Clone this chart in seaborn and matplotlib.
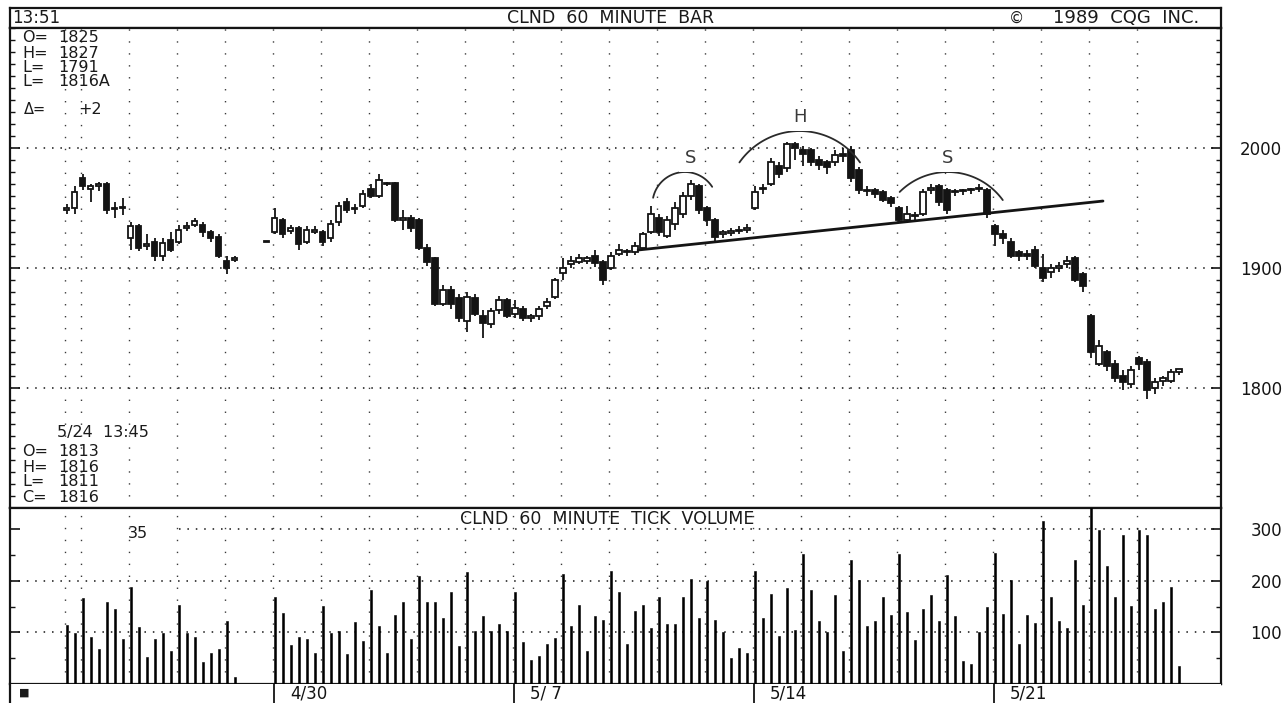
import numpy as np
import pandas as pd
import matplotlib
matplotlib.use("Agg")
import matplotlib.pyplot as plt
import seaborn as sns

sns.set_style("white")
plt.rcParams['font.family'] = ['DejaVu Sans']

# ---------------------------------------------------------------- data
# hourly bar number, counted from the first bar of the 4/30 week (6 bars a day)
bar_index = list(range(-26, -4)) + [-1] + list(range(0, 114))

opens = [1948, 1950, 1975, 1966, 1968, 1970, 1950, 1950, 1925, 1935, 1918, 1922, 1910,
         1923, 1922, 1933, 1936, 1936, 1930, 1926, 1906, 1907,
         1922,
         1930, 1940, 1931, 1933, 1922, 1930, 1930, 1925, 1938, 1955, 1950, 1952, 1966, 1960,
         1970, 1971, 1940, 1942, 1940, 1917, 1908, 1870, 1882, 1875, 1856, 1875, 1860, 1853,
         1865, 1873,
         1862, 1866, 1858, 1860, 1868, 1876, 1896, 1903, 1905, 1906, 1910, 1905, 1900, 1912,
         1914, 1913, 1917, 1930, 1942, 1927, 1937, 1945, 1960, 1968, 1950, 1940, 1928, 1929,
         1931, 1932,
         1950, 1966, 1970, 1985, 1983, 2003, 1998, 1998, 1990, 1988, 1988, 1995, 1998, 1982,
         1965, 1965, 1963, 1958, 1950, 1940, 1943, 1945, 1965, 1968, 1965, 1963, 1964, 1965,
         1966, 1965,
         1935, 1928, 1922, 1913, 1912, 1915, 1900, 1897, 1900, 1903, 1908, 1895, 1860, 1820,
         1830, 1820, 1810, 1803, 1825, 1822, 1800, 1806, 1806, 1813]

highs = [1953, 1968, 1978, 1970, 1972, 1972, 1955, 1958, 1938, 1937, 1928, 1925, 1925,
         1930, 1936, 1938, 1942, 1938, 1932, 1928, 1910, 1910,
         1922,
         1950, 1942, 1936, 1935, 1935, 1935, 1932, 1940, 1955, 1958, 1953, 1965, 1970, 1978,
         1972, 1972, 1948, 1944, 1942, 1920, 1909, 1886, 1885, 1878, 1880, 1878, 1865, 1867,
         1877, 1875,
         1873, 1868, 1862, 1868, 1875, 1892, 1908, 1910, 1912, 1910, 1915, 1907, 1913, 1920,
         1916, 1922, 1930, 1952, 1945, 1943, 1955, 1963, 1973, 1970, 1952, 1942, 1932, 1933,
         1935, 1937,
         1968, 1970, 1992, 1988, 2005, 2005, 2002, 2000, 1993, 1990, 1998, 2000, 2002, 1984,
         1968, 1967, 1965, 1960, 1952, 1952, 1947, 1966, 1970, 1970, 1967, 1966, 1966, 1967,
         1970, 1967,
         1937, 1932, 1925, 1915, 1915, 1918, 1912, 1903, 1905, 1910, 1910, 1897, 1862, 1840,
         1832, 1823, 1815, 1818, 1827, 1824, 1808, 1810, 1816, 1816]

lows = [1945, 1945, 1965, 1955, 1964, 1945, 1942, 1944, 1915, 1914, 1915, 1906, 1906,
        1913, 1920, 1931, 1934, 1926, 1922, 1908, 1895, 1905,
        1922,
        1928, 1925, 1928, 1915, 1920, 1928, 1918, 1922, 1935, 1946, 1945, 1950, 1958, 1958,
        1968, 1938, 1932, 1930, 1915, 1902, 1868, 1868, 1866, 1855, 1847, 1860, 1842, 1850,
        1862, 1858,
        1858, 1856, 1855, 1857, 1866, 1874, 1890, 1900, 1903, 1903, 1901, 1886, 1898, 1910,
        1910, 1911, 1915, 1928, 1927, 1925, 1932, 1942, 1957, 1945, 1935, 1922, 1925, 1927,
        1928, 1929,
        1948, 1962, 1968, 1975, 1980, 1990, 1985, 1985, 1982, 1978, 1985, 1988, 1972, 1962,
        1960, 1958, 1955, 1951, 1938, 1938, 1940, 1943, 1962, 1952, 1945, 1960, 1961, 1962,
        1963, 1942,
        1918, 1920, 1908, 1906, 1907, 1900, 1888, 1892, 1897, 1900, 1888, 1880, 1825, 1818,
        1814, 1805, 1798, 1800, 1815, 1791, 1795, 1802, 1804, 1811]

closes = [1950, 1963, 1968, 1968, 1970, 1948, 1949, 1950, 1935, 1917, 1920, 1910, 1921,
          1915, 1932, 1935, 1939, 1930, 1925, 1910, 1900, 1908,
          1922,
          1942, 1928, 1933, 1920, 1932, 1932, 1922, 1937, 1952, 1948, 1949, 1962, 1960, 1973,
          1971, 1940, 1942, 1933, 1917, 1905, 1870, 1882, 1870, 1858, 1876, 1862, 1854, 1864,
          1873, 1860,
          1867, 1858, 1860, 1866, 1872, 1890, 1900, 1906, 1908, 1908, 1904, 1890, 1910, 1915,
          1913, 1918, 1928, 1945, 1930, 1940, 1950, 1960, 1970, 1948, 1940, 1926, 1930, 1931,
          1932, 1933,
          1963, 1967, 1988, 1978, 2003, 2000, 1995, 1988, 1986, 1984, 1994, 1993, 1975, 1965,
          1964, 1962, 1957, 1954, 1940, 1945, 1944, 1963, 1967, 1955, 1948, 1964, 1964, 1965,
          1967, 1945,
          1928, 1925, 1910, 1910, 1910, 1902, 1892, 1900, 1902, 1906, 1890, 1885, 1830, 1835,
          1818, 1808, 1805, 1815, 1820, 1798, 1805, 1808, 1813, 1816]

tick_volume = [114, 99, 167, 91, 67, 159, 145, 88, 188, 110, 53, 88, 99, 64, 154, 99, 91, 42,
               61, 67, 122, 13,
               0,
               169, 138, 75, 91, 88, 61, 152, 99, 103, 59, 120, 84, 183, 112, 61, 134, 159, 88,
               209, 159, 159, 128, 178, 73, 217, 103, 132, 103, 117, 103,
               178, 81, 46, 54, 78, 90, 213, 112, 154, 64, 132, 125, 220, 178, 78, 141, 154, 108,
               169, 117, 117, 169, 203, 128, 200, 125, 101, 51, 70, 61,
               220, 128, 175, 94, 187, 105, 253, 183, 122, 101, 172, 64, 240, 201, 112, 122, 169,
               134, 253, 139, 86, 146, 173, 122, 211, 132, 44, 38, 101, 149,
               255, 135, 201, 78, 134, 118, 317, 169, 122, 109, 241, 154, 360, 299, 230, 169, 290,
               152, 299, 290, 146, 159, 189, 35]

week_starts = [0, 30, 60, 90]
week_labels = ["4/30", "5/ 7", "5/14", "5/21"]
price_ticks = [1800, 1900, 2000]
volume_ticks = [100, 200, 300]

# head-and-shoulders neckline
neck_x = [45.4, 103.5]
neck_y = [1915, 1955.8]

bars = pd.DataFrame({"bar": bar_index, "open": opens, "high": highs,
                     "low": lows, "close": closes, "volume": tick_volume})

# ---------------------------------------------------------------- layout
W, H, DPI = 1284, 703, 100
fig = plt.figure(figsize=(W / DPI, H / DPI), dpi=DPI)
fig.patch.set_facecolor("white")


def box(x0, y0, x1, y1):
    return [x0 / W, 1 - y1 / H, (x1 - x0) / W, (y1 - y0) / H]


def ptext(x, y, s, **kw):
    kw.setdefault("va", "center")
    kw.setdefault("color", "#1a1a1a")
    fig.text(x / W, 1 - y / H, s, **kw)


XLIM = (-33.1, 118.25)
INK = "#141414"
FRAME_LW = 1.6

hdr = fig.add_axes(box(10, 8, 1221, 28))
ax = fig.add_axes(box(10, 28, 1221, 508))
vax = fig.add_axes(box(10, 508, 1221, 684))
dax = fig.add_axes(box(10, 684, 1221, 703))

for a in (hdr, ax, vax, dax):
    a.set_xlim(*XLIM)
    a.set_xticks([])
    a.set_facecolor("white")
    for sp in a.spines.values():
        sp.set_linewidth(FRAME_LW)
        sp.set_color(INK)

hdr.set_yticks([])
dax.set_yticks([])
for side in ("top", "right", "bottom"):
    dax.spines[side].set_visible(False)

ax.set_ylim(1700, 2100)
vax.set_ylim(0, 341.7)

day_cols = [bar_index[0] - 0.25] + list(np.arange(-24, 109, 6) - 0.25)

# dotted grid: columns of dots at each day, dotted rules at round levels
for a, lo, hi in ((ax, 1700, 2100), (vax, 0, 341.7)):
    for d in day_cols:
        a.plot([d, d], [lo, hi], color="#3a3a3a", lw=1.0, ls=(0, (1, 7.6)), zorder=1)
for p in price_ticks:
    ax.axhline(p, color=INK, lw=1.1, ls=(0, (1, 4.5)), zorder=1)
for v in volume_ticks:
    start = -12 if v == 300 else XLIM[0]
    vax.hlines(v, start, XLIM[1], color=INK, lw=1.1, linestyles=(0, (1, 4.5)), zorder=1)

# axis ticks and right-hand scale labels
for a, major, minor in ((ax, price_ticks, np.arange(1700, 2101, 10)),
                        (vax, volume_ticks, np.arange(0, 341, 50))):
    a.yaxis.tick_right()
    a.set_yticks(major)
    a.set_yticks(minor, minor=True)
    a.tick_params(axis="y", which="major", direction="in", length=7, width=1.2,
                  left=True, right=True, labelleft=False, labelright=True,
                  pad=44, labelsize=12, labelcolor=INK, color=INK)
    a.tick_params(axis="y", which="minor", direction="in", length=3.5, width=1.0,
                  left=True, right=True, color=INK)
    a.set_yticklabels([str(t) for t in major])
    plt.setp(a.get_yticklabels(), ha="right")

# ---------------------------------------------------------------- candles
up = bars[bars["close"] >= bars["open"]]
dn = bars[bars["close"] < bars["open"]]
ax.vlines(bars["bar"], bars["low"], bars["high"], color=INK, lw=1.3, zorder=3)
body_w = 0.66
ax.bar(up["bar"], np.maximum(up["close"] - up["open"], 0.8), bottom=up["open"],
       width=body_w, color="white", edgecolor=INK, lw=1.3, zorder=4)
ax.bar(dn["bar"], dn["open"] - dn["close"], bottom=dn["close"],
       width=body_w, color=INK, edgecolor=INK, lw=1.3, zorder=4)

# neckline
sns.lineplot(x=neck_x, y=neck_y, ax=ax, color=INK, lw=2.0, zorder=5)


def arc(cx, cy, r_px, t0, t1):
    t = np.radians(np.linspace(t0, t1, 60))
    ax.plot(cx + r_px / 8.0 * np.cos(t), cy + r_px / 1.2 * np.sin(t),
            color="#2a2a2a", lw=1.3, zorder=5)


arc(51.25, 1952.9, 32.5, 33, 168)
arc(65.6, 1952.8, 73.6, 35, 145)
arc(84.1, 1923.3, 68, 36, 135)

for x, y, s in ((51.9, 1992, "S"), (65.6, 2026, "H"), (84.1, 1992, "S")):
    ax.text(x, y, s, ha="center", va="center", fontsize=13, color="#3a3a3a", zorder=6,
            bbox=dict(facecolor="white", edgecolor="none", pad=4))

# ---------------------------------------------------------------- volume
vol = bars[bars["volume"] > 0]
sns.barplot(x=vol["bar"], y=vol["volume"], ax=vax, native_scale=True, width=0.27,
            color="#000000", saturation=1, errorbar=None, linewidth=0.4,
            edgecolor="#000000", zorder=3)
vax.set_xlim(*XLIM)
vax.set_ylim(0, 341.7)
vax.set_xlabel("")
vax.set_ylabel("")
vax.set_xticks([])
ax.set_xlabel("")
ax.set_ylabel("")

# ---------------------------------------------------------------- date strip
for s, lab in zip(week_starts, week_labels):
    dax.axvline(s - 0.15, color=INK, lw=1.3)
    dax.text(s + 1.9, 0.5, lab, transform=dax.get_xaxis_transform(), va="center",
             ha="left", fontsize=12, color=INK)
dax.set_ylim(0, 1)
ptext(24, 693, "\u25a0", fontsize=8, ha="center")

# ---------------------------------------------------------------- captions
ptext(12, 18, "13:51", fontsize=12, ha="left")
ptext(611, 18, "CLND  60  MINUTE  BAR", fontsize=12.5, ha="center")
ptext(1017, 18, "\u00a9", fontsize=11, ha="center")
ptext(1053, 18, "1989  CQG  INC.", fontsize=13, ha="left")

for y, lab, val in ((38, "O=", "1825"), (53, "H=", "1827"), (68, "L=", "1791"),
                    (82, "L=", "1816A")):
    ptext(22, y, lab, fontsize=11.5, ha="left")
    ptext(58, y, val, fontsize=11.5, ha="left")
ptext(24, 110, "\u0394=", fontsize=10.5, ha="left")
ptext(78, 110, "+2", fontsize=11.5, ha="left")

ptext(57, 433, "5/24  13:45", fontsize=11.5, ha="left")
for y, lab, val in ((452, "O=", "1813"), (467, "H=", "1816"), (482, "L=", "1811"),
                    (498, "C=", "1816")):
    ptext(22, y, lab, fontsize=11.5, ha="left")
    ptext(58, y, val, fontsize=11.5, ha="left")

ptext(607, 519, "CLND  60  MINUTE  TICK  VOLUME", fontsize=12.5, ha="center")
ptext(128, 533, "35", fontsize=11.5, ha="left")

fig.savefig("out.png", dpi=DPI, facecolor="white")
